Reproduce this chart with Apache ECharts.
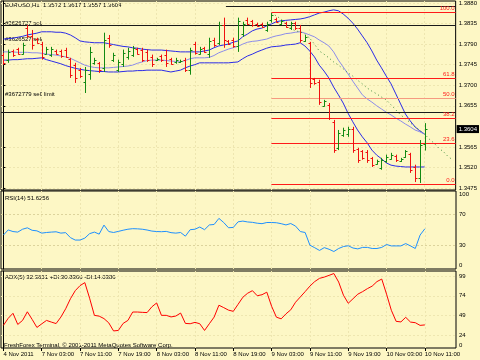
<!DOCTYPE html>
<html><head><meta charset="utf-8">
<script src="https://cdn.jsdelivr.net/npm/echarts@6/dist/echarts.min.js"></script>
<style>html,body{margin:0;padding:0;background:#FDF7C5}#c{width:480px;height:360px}</style>
</head><body><div id="c"></div>
<script>
// ---- data (EURUSD H1) ----
const opens = [1.3767,1.3756,1.3775,1.3780,1.3769,1.3826,1.3808,1.3802,1.3791,1.3769,
1.3767,1.3775,1.3775,1.3778,1.3758,1.3745,1.3734,1.3707,1.3725,1.3749,
1.3749,1.3738,1.3804,1.3756,1.3734,1.3747,1.3762,1.3767,1.3780,1.3778,
1.3773,1.3762,1.3756,1.3764,1.3767,1.3758,1.3751,1.3751,1.3756,1.3734,
1.3791,1.3769,1.3782,1.3769,1.3799,1.3793,1.3832,1.3797,1.3799,1.3786,
1.3812,1.3843,1.3841,1.3834,1.3834,1.3821,1.3843,1.3845,1.3834,1.3837,
1.3826,1.3837,1.3826,1.3797,1.3793,1.3714,1.3707,1.3655,1.3657,1.3620,
1.3563,1.3591,1.3594,1.3604,1.3561,1.3556,1.3554,1.3541,1.3528,1.3519,
1.3534,1.3539,1.3545,1.3534,1.3543,1.3550,1.3521,1.3497,1.3572];
const closes = [1.3749,1.3773,1.3767,1.3769,1.3788,1.3808,1.3788,1.3793,1.3762,1.3780,
1.3780,1.3769,1.3764,1.3762,1.3723,1.3716,1.3721,1.3734,1.3773,1.3756,
1.3734,1.3799,1.3788,1.3767,1.3751,1.3771,1.3775,1.3782,1.3769,1.3756,
1.3756,1.3747,1.3758,1.3756,1.3749,1.3747,1.3756,1.3753,1.3734,1.3778,
1.3771,1.3780,1.3773,1.3797,1.3788,1.3832,1.3799,1.3791,1.3786,1.3841,
1.3834,1.3834,1.3832,1.3830,1.3828,1.3834,1.3854,1.3839,1.3841,1.3828,
1.3837,1.3826,1.3799,1.3806,1.3705,1.3705,1.3664,1.3666,1.3629,1.3558,
1.3596,1.3602,1.3604,1.3558,1.3537,1.3541,1.3537,1.3526,1.3534,1.3537,
1.3543,1.3548,1.3537,1.3539,1.3556,1.3515,1.3497,1.3569,1.3604];
const lows = [1.3745,1.3749,1.3762,1.3767,1.3767,1.3804,1.3778,1.3791,1.3756,1.3767,
1.3762,1.3767,1.3760,1.3760,1.3716,1.3705,1.3716,1.3683,1.3712,1.3745,
1.3727,1.3729,1.3782,1.3751,1.3729,1.3740,1.3756,1.3762,1.3767,1.3751,
1.3751,1.3740,1.3753,1.3751,1.3740,1.3745,1.3747,1.3749,1.3729,1.3723,
1.3767,1.3767,1.3771,1.3760,1.3784,1.3788,1.3782,1.3788,1.3782,1.3773,
1.3806,1.3832,1.3828,1.3828,1.3826,1.3817,1.3837,1.3837,1.3832,1.3826,
1.3821,1.3821,1.3793,1.3795,1.3694,1.3701,1.3657,1.3653,1.3624,1.3552,
1.3558,1.3587,1.3587,1.3552,1.3530,1.3537,1.3530,1.3521,1.3526,1.3515,
1.3530,1.3537,1.3532,1.3532,1.3541,1.3508,1.3488,1.3486,1.3557];
const highs = [1.3771,1.3778,1.3778,1.3782,1.3793,1.3832,1.3821,1.3804,1.3795,1.3784,
1.3784,1.3778,1.3778,1.3782,1.3760,1.3749,1.3738,1.3740,1.3784,1.3760,
1.3751,1.3815,1.3810,1.3771,1.3756,1.3778,1.3782,1.3786,1.3782,1.3782,
1.3778,1.3767,1.3760,1.3767,1.3778,1.3760,1.3760,1.3756,1.3760,1.3782,
1.3795,1.3784,1.3784,1.3804,1.3804,1.3839,1.3848,1.3799,1.3804,1.3848,
1.3839,1.3848,1.3843,1.3837,1.3837,1.3839,1.3858,1.3848,1.3843,1.3839,
1.3839,1.3839,1.3832,1.3810,1.3795,1.3716,1.3712,1.3668,1.3661,1.3624,
1.3602,1.3607,1.3609,1.3609,1.3563,1.3558,1.3558,1.3543,1.3537,1.3541,
1.3548,1.3552,1.3548,1.3541,1.3558,1.3552,1.3526,1.3580,1.3617];
const bandUpper = [1.3801,1.3802,1.3803,1.3805,1.3807,1.3810,1.3812,1.3814,1.3817,1.3817,
1.3817,1.3816,1.3816,1.3814,1.3810,1.3804,1.3797,1.3795,1.3794,1.3793,
1.3793,1.3793,1.3791,1.3789,1.3787,1.3785,1.3784,1.3782,1.3781,1.3779,
1.3778,1.3777,1.3777,1.3777,1.3776,1.3775,1.3774,1.3773,1.3773,1.3773,
1.3773,1.3773,1.3775,1.3777,1.3782,1.3786,1.3788,1.3790,1.3794,1.3797,
1.3806,1.3812,1.3819,1.3823,1.3825,1.3830,1.3834,1.3839,1.3841,1.3842,
1.3843,1.3844,1.3845,1.3847,1.3850,1.3854,1.3858,1.3860,1.3863,1.3865,
1.3863,1.3856,1.3847,1.3836,1.3823,1.3808,1.3793,1.3775,1.3755,1.3738,
1.3720,1.3703,1.3681,1.3659,1.3637,1.3622,1.3609,1.3600,1.3593];
const bandMiddle = [1.3773,1.3773,1.3773,1.3772,1.3772,1.3772,1.3771,1.3771,1.3770,1.3768,
1.3767,1.3766,1.3764,1.3762,1.3759,1.3754,1.3749,1.3744,1.3741,1.3739,
1.3738,1.3738,1.3738,1.3739,1.3740,1.3741,1.3742,1.3744,1.3748,1.3751,
1.3754,1.3755,1.3755,1.3755,1.3754,1.3753,1.3752,1.3751,1.3754,1.3758,
1.3760,1.3760,1.3760,1.3761,1.3765,1.3771,1.3775,1.3779,1.3782,1.3785,
1.3790,1.3794,1.3796,1.3797,1.3799,1.3801,1.3805,1.3808,1.3810,1.3813,
1.3814,1.3816,1.3817,1.3814,1.3810,1.3806,1.3799,1.3793,1.3786,1.3773,
1.3755,1.3740,1.3725,1.3709,1.3694,1.3679,1.3670,1.3663,1.3655,1.3648,
1.3641,1.3635,1.3628,1.3622,1.3615,1.3609,1.3602,1.3598,1.3593];
const bandLower = [1.3755,1.3755,1.3756,1.3756,1.3757,1.3758,1.3758,1.3759,1.3760,1.3756,
1.3753,1.3750,1.3747,1.3743,1.3740,1.3737,1.3735,1.3733,1.3732,1.3731,
1.3730,1.3730,1.3729,1.3729,1.3729,1.3730,1.3731,1.3731,1.3732,1.3732,
1.3733,1.3733,1.3733,1.3733,1.3731,1.3729,1.3731,1.3733,1.3738,1.3742,
1.3745,1.3749,1.3749,1.3749,1.3749,1.3749,1.3749,1.3749,1.3750,1.3751,
1.3758,1.3764,1.3768,1.3773,1.3777,1.3781,1.3784,1.3785,1.3786,1.3788,
1.3789,1.3790,1.3793,1.3786,1.3775,1.3762,1.3744,1.3731,1.3716,1.3696,
1.3679,1.3661,1.3639,1.3620,1.3602,1.3587,1.3574,1.3558,1.3547,1.3539,
1.3530,1.3525,1.3523,1.3522,1.3521,1.3521,1.3521,1.3521,1.3521];
const shiftedMaStart = 56;
const shiftedMa = [1.3858,1.3852,1.3845,1.3836,1.3825,1.3819,1.3817,1.3812,1.3803,1.3790,
1.3775,1.3768,1.3760,1.3751,1.3744,1.3736,1.3727,1.3720,1.3711,1.3703,
1.3694,1.3687,1.3681,1.3674,1.3668,1.3657,1.3646,1.3635,1.3627,1.3618,
1.3609,1.3602,1.3593,1.3582,1.3573,1.3562,1.3554,1.3543,1.3536];
const rsi = [43.5,50.1,48.0,47.3,51.0,52.8,49.6,48.9,46.0,46.8,
47.3,47.7,46.0,46.6,40.2,37.1,37.1,39.6,45.3,47.3,
44.7,56.3,48.0,46.8,48.2,49.7,51.0,51.7,51.5,51.0,
50.0,48.6,48.0,47.8,48.2,46.6,46.0,46.8,42.1,50.4,
51.0,53.8,50.4,56.5,57.1,64.9,59.6,52.9,53.3,60.5,
61.4,60.3,59.8,58.7,58.1,59.6,59.6,59.3,58.1,56.5,
58.3,55.0,48.0,46.8,30.5,27.3,23.8,27.4,25.3,22.4,
26.3,28.8,29.8,26.9,25.8,27.7,27.7,26.3,26.3,27.7,
31.4,29.6,29.6,29.6,32.6,29.6,26.3,43.5,51.6];
const adx = [36.6,45.5,51.9,37.8,42.9,53.8,44.2,34.0,38.5,42.9,
40.8,38.9,47.1,57.6,70.3,80.5,86.9,90.7,71.0,49.3,
48.3,45.2,39.8,29.6,30.2,39.1,42.9,53.5,53.5,53.1,
52.8,60.1,65.0,49.3,49.3,47.3,48.4,52.2,39.1,38.7,
40.4,38.7,30.2,38.7,47.1,62.1,59.1,55.9,54.4,63.3,
72.2,77.3,80.5,74.1,75.4,78.6,60.8,47.0,44.9,51.2,
56.3,65.9,72.6,79.3,86.3,92.0,96.1,97.7,99.9,102.2,
91.4,74.8,64.6,70.3,76.1,79.3,83.1,86.3,92.0,95.2,
76.1,55.7,41.7,41.0,46.8,40.8,40.0,36.6,37.2];
const timeTickBars = [0,8,16,24,32,40,48,56,64,72,80,88];
const timeTickLabels = ['4 Nov 2011','7 Nov 03:00','7 Nov 11:00','7 Nov 19:00','8 Nov 03:00','8 Nov 11:00','8 Nov 19:00','9 Nov 03:00','9 Nov 11:00','9 Nov 19:00','10 Nov 03:00','10 Nov 11:00'];
const priceTicks = [1.3880,1.3835,1.3790,1.3745,1.3700,1.3655,1.3565,1.3520,1.3475];
const rsiTicks = [100,70,30,0];
const rsiLevels = [70,30];
const adxTicks = [99,74,49,24];
const fibNames = ['100.0','61.8','50.0','38.2','23.6','0.0'];
const fibPrices = [1.3860,1.3716,1.3672,1.3628,1.3573,1.3484];
const fibStartBar = 56;
const orderPrices = [1.3874,1.3832,1.3640];
const orderStartBars = [47,0,0];
const lastPrice = 1.3604;

// ---- chart ----
const FONT = 'Liberation Sans';
const TXT = {fontFamily: FONT, fontSize: 6, color: '#000'};
const UP = '#128a12', DOWN = '#f01010';
const GRIDC = '#EEE6B0';
const NSLOT = 95;
const ohlc = opens.map((o, i) => [i, o, closes[i], lows[i], highs[i]]);
const idx = arr => arr.map((v, i) => [i, v]);

function renderOHLC(params, api) {
  const i = api.value(0), o = api.value(1), c = api.value(2), l = api.value(3), h = api.value(4);
  const pH = api.coord([i, h]), pL = api.coord([i, l]), pO = api.coord([i, o]), pC = api.coord([i, c]);
  const x = Math.round(pH[0]) + 0.5;
  const col = c >= o ? UP : DOWN;
  const st = {stroke: col, lineWidth: 1};
  return {type: 'group', children: [
    {type: 'line', shape: {x1: x, y1: pH[1], x2: x, y2: pL[1]}, style: st},
    {type: 'line', shape: {x1: x - 2, y1: Math.round(pO[1]) + 0.5, x2: x, y2: Math.round(pO[1]) + 0.5}, style: st},
    {type: 'line', shape: {x1: x, y1: Math.round(pC[1]) + 0.5, x2: x + 2, y2: Math.round(pC[1]) + 0.5}, style: st}
  ]};
}

const grids = [
  {left: 1, right: 24, top: 1, height: 189},
  {left: 1, right: 24, top: 191, height: 78},
  {left: 1, right: 24, top: 271, height: 77}
].map(g => Object.assign(g, {show: true, borderColor: '#000', borderWidth: 1, backgroundColor: 'transparent'}));

const xAxes = [0, 1, 2].map(k => ({
  type: 'value', gridIndex: k, min: -0.5, max: NSLOT - 0.5,
  axisLine: {show: false},
  axisTick: {show: k === 2, customValues: timeTickBars, length: 3, lineStyle: {color: '#000'}},
  axisLabel: Object.assign({show: k === 2, customValues: timeTickBars, align: 'left', margin: 3,
    formatter: v => timeTickLabels[timeTickBars.indexOf(v)]}, TXT),
  splitLine: {show: true, lineStyle: {color: GRIDC, type: [2, 2]}}
}));

const fibMark = fibNames.map((n, j) => [
  {coord: [fibStartBar, fibPrices[j]], name: n,
   lineStyle: {color: n === '50.0' ? '#F59A80' : '#FF1A1A', width: 1, type: 'solid'}},
  {coord: [NSLOT - 0.5, fibPrices[j]]}
]);
const orderMark = orderPrices.map((p, j) => [
  {coord: [orderStartBars[j] - 0.5, p]}, {coord: [NSLOT - 0.5, p]}
]);
const bandLine = (name, data, color) => ({type: 'line', name, xAxisIndex: 0, yAxisIndex: 0, data: idx(data),
  showSymbol: false, z: 4, lineStyle: {color, width: 1}});

const option = {
  backgroundColor: '#FDF7C5',
  animation: false,
  grid: grids,
  xAxis: xAxes,
  yAxis: [
    {type: 'value', gridIndex: 0, position: 'right', min: 1.34706, max: 1.38844,
     axisLine: {show: true, lineStyle: {color: '#000'}},
     axisTick: {show: true, customValues: priceTicks, length: 2, lineStyle: {color: '#000'}},
     axisLabel: Object.assign({customValues: priceTicks, margin: 3, formatter: v => v.toFixed(4)}, TXT),
     splitLine: {show: true, lineStyle: {color: GRIDC, type: [2, 2]}}},
    {type: 'value', gridIndex: 1, position: 'right', min: 0, max: 100,
     axisLine: {show: true, lineStyle: {color: '#000'}},
     axisTick: {show: false, customValues: rsiLevels},
     axisLabel: Object.assign({customValues: rsiTicks, margin: 3,
       formatter: v => v === 100 ? '{t|100}' : v === 0 ? '{b|0}' : String(v),
       rich: {t: {padding: [7, 0, 0, 0], fontSize: 6, fontFamily: FONT}, b: {padding: [0, 0, 7, 0], fontSize: 6, fontFamily: FONT}}}, TXT),
     splitLine: {show: true, lineStyle: {color: '#DCD39C', type: [2, 2]}}},
    {type: 'value', gridIndex: 2, position: 'right', min: 8, max: 105.4,
     axisLine: {show: true, lineStyle: {color: '#000'}},
     axisTick: {show: false, customValues: adxTicks},
     axisLabel: Object.assign({customValues: adxTicks.concat([8]), margin: 3,
       formatter: v => v === 8 ? '{b|0}' : String(v),
       rich: {b: {padding: [0, 0, 6, 0], fontSize: 6, fontFamily: FONT}}}, TXT),
     splitLine: {show: true, lineStyle: {color: GRIDC, type: [2, 2]}}}
  ],
  series: [
    {type: 'line', name: 'fibo', xAxisIndex: 0, yAxisIndex: 0, data: [], z: 3,
     markLine: {silent: true, symbol: 'none', animation: false,
       label: {show: true, position: 'insideEndTop', formatter: p => p.name, color: '#FF1A1A',
         fontFamily: FONT, fontSize: 6, distance: 1},
       data: fibMark}},
    {type: 'line', name: 'orders', xAxisIndex: 0, yAxisIndex: 0, data: [], z: 2,
     markLine: {silent: true, symbol: 'none', animation: false, label: {show: false},
       lineStyle: {color: '#1a1a1a', width: 1, type: 'solid'}, data: orderMark}},
    {type: 'line', name: 'bid', xAxisIndex: 0, yAxisIndex: 0, data: [], z: 6,
     markLine: {silent: true, symbol: 'none', animation: false,
       lineStyle: {color: 'rgba(0,0,0,0)', width: 1},
       label: {show: true, position: 'end', formatter: () => lastPrice.toFixed(4), backgroundColor: '#000',
         color: '#fff', fontFamily: FONT, fontSize: 6, padding: [1, 2, 1, 2], distance: 1},
       data: [[{coord: [0, lastPrice]}, {coord: [NSLOT - 0.5, lastPrice]}]]}},
    bandLine('upper', bandUpper, '#2B2BE8'),
    bandLine('middle', bandMiddle, '#8C8CEA'),
    bandLine('lower', bandLower, '#2B2BE8'),
    {type: 'line', name: 'shifted MA', xAxisIndex: 0, yAxisIndex: 0,
     data: shiftedMa.map((v, i) => [shiftedMaStart + i, v]),
     showSymbol: false, z: 4, lineStyle: {color: '#3C8C3C', width: 1, type: [1, 3]}},
    {type: 'custom', name: 'EURUSD', xAxisIndex: 0, yAxisIndex: 0, data: ohlc, renderItem: renderOHLC,
     encode: {x: 0, y: [1, 2, 3, 4]}, z: 5},
    {type: 'line', name: 'RSI', xAxisIndex: 1, yAxisIndex: 1, data: idx(rsi),
     showSymbol: false, lineStyle: {color: '#1E90FF', width: 1}},
    {type: 'line', name: 'ADX', xAxisIndex: 2, yAxisIndex: 2, data: idx(adx),
     showSymbol: false, lineStyle: {color: '#FF0000', width: 1}}
  ],
  graphic: [
    {type: 'text', left: 5, top: 2, style: {text: 'EURUSD,H1  1.3572 1.3617 1.3557 1.3604', font: '6px ' + FONT, fill: '#000'}},
    {type: 'text', left: 5, top: 20, style: {text: '#3626727 sell', font: '6px ' + FONT, fill: '#000'}},
    {type: 'text', left: 5, top: 36, style: {text: '#3626527 sell', font: '6px ' + FONT, fill: '#000'}},
    {type: 'text', left: 5, top: 91, style: {text: '#3672779 sell limit', font: '6px ' + FONT, fill: '#000'}},
    {type: 'text', left: 5, top: 195, style: {text: 'RSI(14) 51.6256', font: '6px ' + FONT, fill: '#000'}},
    {type: 'text', left: 5, top: 274, style: {text: 'ADX(5) 32.3651 +DI:30.8366 -DI:14.0386', font: '6px ' + FONT, fill: '#000'}},
    {type: 'text', left: 4, top: 342, style: {text: 'FreshForex Terminal, \u00a9 2001-2011 MetaQuotes Software Corp.', font: '6px ' + FONT, fill: '#000'}}
  ]
};
const chart = echarts.init(document.getElementById('c'), null, {renderer: 'canvas'});
chart.setOption(option);
</script></body></html>
